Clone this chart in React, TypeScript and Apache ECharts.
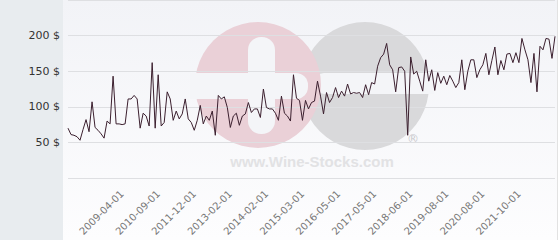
import React, { useEffect, useRef } from "react";
import * as echarts from "echarts";

const DATES: string[] = [
  "2007-10-01","2007-11-01","2007-12-01","2008-01-01","2008-02-01","2008-03-01","2008-04-01","2008-05-01","2008-06-01","2008-07-01",
  "2008-08-01","2008-09-01","2008-10-01","2008-11-01","2008-12-01","2009-01-01","2009-02-01","2009-03-01","2009-04-01","2009-05-01",
  "2009-06-01","2009-07-01","2009-09-01","2009-10-01","2009-11-01","2010-01-01","2010-03-01","2010-05-01","2010-06-01","2010-07-01",
  "2010-09-01","2010-10-01","2010-11-01","2010-12-01","2011-01-01","2011-03-01","2011-04-01","2011-05-01","2011-07-01","2011-08-01",
  "2011-09-01","2011-10-01","2011-12-01","2012-01-01","2012-02-01","2012-03-01","2012-04-01","2012-05-01","2012-06-01","2012-08-01",
  "2012-09-01","2012-10-01","2012-11-01","2013-01-01","2013-02-01","2013-03-01","2013-04-01","2013-05-01","2013-06-01","2013-07-01",
  "2013-08-01","2013-09-01","2013-10-01","2013-11-01","2013-12-01","2014-01-01","2014-02-01","2014-03-01","2014-04-01","2014-05-01",
  "2014-06-01","2014-07-01","2014-08-01","2014-09-01","2014-10-01","2014-11-01","2014-12-01","2015-02-01","2015-03-01","2015-04-01",
  "2015-05-01","2015-06-01","2015-07-01","2015-08-01","2015-10-01","2015-11-01","2015-12-01","2016-01-01","2016-02-01","2016-04-01",
  "2016-05-01","2016-06-01","2016-07-01","2016-08-01","2016-09-01","2016-10-01","2016-11-01","2016-12-01","2017-01-01","2017-02-01",
  "2017-03-01","2017-04-01","2017-05-01","2017-06-01","2017-07-01","2017-08-01","2017-09-01","2017-10-01","2017-11-01","2017-12-01",
  "2018-01-01","2018-02-01","2018-03-01","2018-05-01","2018-06-01","2018-07-01","2018-08-01","2018-09-01","2018-10-01","2018-11-01",
  "2019-01-01","2019-02-01","2019-03-01","2019-04-01","2019-05-01","2019-07-01","2019-08-01","2019-09-01","2019-10-01","2019-11-01",
  "2019-12-01","2020-01-01","2020-02-01","2020-03-01","2020-04-01","2020-05-01","2020-06-01","2020-07-01","2020-08-01","2020-09-01",
  "2020-10-01","2020-11-01","2020-12-01","2021-01-01","2021-02-01","2021-03-01","2021-05-01","2021-06-01","2021-07-01","2021-09-01",
  "2021-10-01","2021-11-01","2021-12-01","2022-01-01","2022-02-01","2022-03-01","2022-04-01","2022-05-01","2022-06-01","2022-07-01",
  "2022-08-01","2022-09-01","2022-10-01"
];

const PRICES: number[] = [
  70, 61, 60, 58, 53, 68, 82, 65, 107, 71,
  67, 62, 56, 80, 76, 143, 76, 76, 75, 76,
  111, 111, 116, 111, 70, 91, 87, 73, 162, 70,
  145, 73, 78, 121, 111, 81, 94, 83, 90, 111,
  83, 78, 67, 81, 102, 76, 87, 81, 94, 60,
  116, 111, 114, 99, 71, 87, 91, 74, 87, 90,
  106, 92, 97, 97, 85, 125, 99, 97, 97, 91,
  81, 115, 91, 87, 80, 145, 112, 109, 81, 109,
  97, 106, 108, 136, 115, 90, 120, 106, 113, 127,
  113, 122, 115, 132, 118, 120, 119, 120, 113, 131,
  117, 134, 132, 157, 169, 174, 189, 159, 152, 121,
  155, 156, 150, 60, 170, 146, 150, 136, 122, 166,
  136, 152, 123, 148, 133, 143, 131, 144, 136, 127,
  134, 166, 124, 150, 166, 166, 141, 152, 159, 175,
  145, 165, 184, 145, 165, 152, 174, 175, 162, 176,
  162, 196, 180, 166, 134, 175, 121, 185, 180, 196,
  195, 168, 199
];

const TICK_LABELS: string[] = [
  "2009-04-01", "2010-09-01", "2011-12-01", "2013-02-01", "2014-02-01", "2015-03-01",
  "2016-05-01", "2017-05-01", "2018-06-01", "2019-08-01", "2020-08-01", "2021-10-01"
];

const Y_TICKS: number[] = [50, 100, 150, 200];

export default function App() {
  const ref = useRef<HTMLDivElement>(null);
  useEffect(() => {
    document.body.style.margin = "0";
    const chart = echarts.init(ref.current!, null, { renderer: "svg" });
    const FONT = "DejaVu Sans";
    chart.setOption({
      animation: false,
      textStyle: { fontFamily: FONT },
      grid: { left: 68, right: 5, top: -2, bottom: 62 },
      graphic: [
        { type: "rect", z: -100, silent: true, shape: { x: 0, y: 0, width: 63, height: 240 }, style: { fill: "#e8ecef" } },
        {
          type: "rect", z: -100, silent: true, shape: { x: 63, y: 0, width: 494, height: 240 },
          style: {
            fill: new echarts.graphic.LinearGradient(0, 0, 0, 1, [
              { offset: 0, color: "#f2f3f7" },
              { offset: 1, color: "#fdfdfe" }
            ])
          }
        },
        { type: "line", z: -100, silent: true, shape: { x1: 557.5, y1: 0, x2: 557.5, y2: 240 }, style: { stroke: "#e2e2e2", lineWidth: 1 } },
        { type: "circle", z: -50, silent: true, shape: { cx: 365, cy: 86, r: 64 }, style: { fill: "#d9d9db" } },
        { type: "rect", z: -49, silent: true, shape: { x: 314, y: 73, width: 120, height: 21, r: [10, 0, 0, 10] }, style: { fill: "#f4f5f8" } },
        { type: "circle", z: -48, silent: true, shape: { cx: 258, cy: 85, r: 63 }, style: { fill: "#ead0d7" } },
        { type: "rect", z: -47, silent: true, shape: { x: 190, y: 73, width: 118, height: 26, r: [0, 12, 12, 0] }, style: { fill: "#f4f5f8" } },
        { type: "rect", z: -47, silent: true, shape: { x: 248, y: 37, width: 27, height: 97, r: 13 }, style: { fill: "#f4f5f8" } },
        {
          type: "text", z: -46, silent: true, x: 312, y: 161,
          style: { text: "www.Wine-Stocks.com", font: "bold 15px 'Liberation Sans', Arial, sans-serif", fill: "#e2e2e4", align: "center", verticalAlign: "middle" }
        },
        {
          type: "text", z: -46, silent: true, x: 413, y: 139,
          style: { text: "®", font: "12px 'DejaVu Sans', sans-serif", fill: "#c8c8cc", align: "center", verticalAlign: "middle" }
        }
      ],
      xAxis: {
        type: "category",
        data: DATES,
        boundaryGap: false,
        axisLine: { show: false },
        axisTick: { show: false },
        splitLine: { show: false },
        axisLabel: {
          interval: (idx: number) => TICK_LABELS.includes(DATES[idx]),
          rotate: 45,
          margin: 14,
          fontSize: 10,
          color: "#777",
          fontFamily: FONT
        }
      },
      yAxis: {
        type: "value",
        min: 0,
        max: 250,
        interval: 50,
        axisLine: { show: false },
        axisTick: { show: false },
        splitLine: { lineStyle: { color: "#dedfe2", width: 1 } },
        axisLabel: {
          margin: 8,
          fontSize: 11,
          color: "#333",
          fontFamily: FONT,
          formatter: (v: number) => (Y_TICKS.includes(v) ? `${v} $` : "")
        }
      },
      series: [
        {
          type: "line",
          data: PRICES,
          symbol: "none",
          lineStyle: { color: "#3b1f2e", width: 1 },
          z: 5
        }
      ]
    });
    return () => chart.dispose();
  }, []);
  return <div ref={ref} style={{ width: 560, height: 240, position: "absolute", left: 0, top: 0 }} />;
}
